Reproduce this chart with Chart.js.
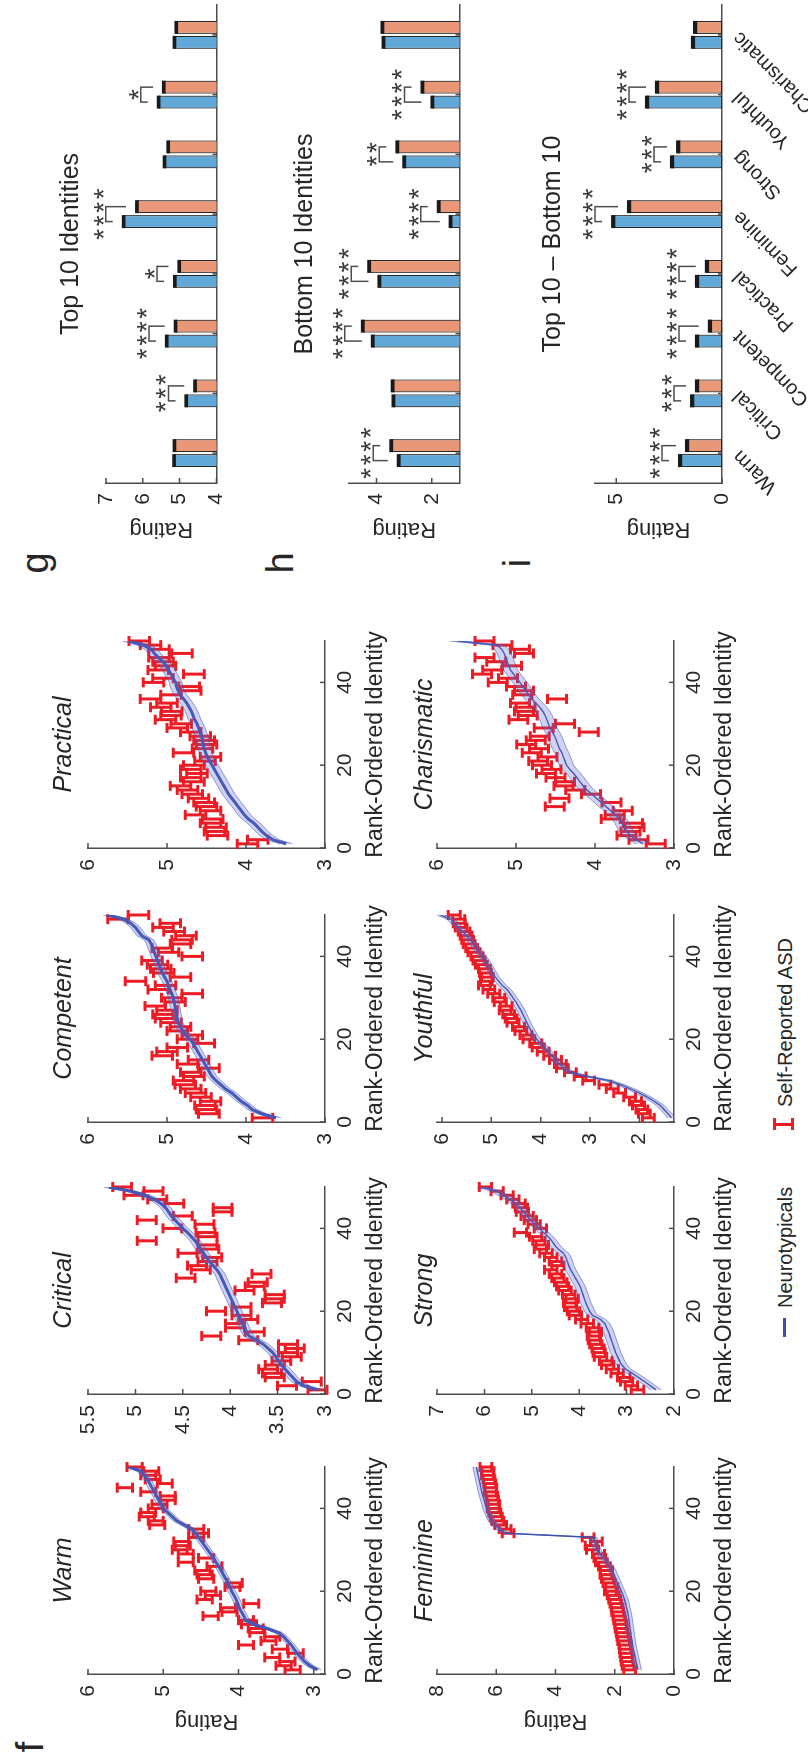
<!DOCTYPE html>
<html>
<head>
<meta charset="utf-8">
<title>Identity ratings</title>
<script src="https://cdn.jsdelivr.net/npm/chart.js@4"></script>
<style>
  body { margin: 0; background: #fff; width: 808px; height: 1760px; overflow: hidden;
         font-family: "Liberation Sans", Arial, sans-serif; color: #262626; }
  #fig { position: absolute; left: 0; top: 0; width: 1760px; height: 808px;
         transform-origin: 0 0; transform: translateY(1760px) rotate(-90deg); }
  #fig canvas { position: absolute; }
  .lbl { position: absolute; white-space: nowrap; line-height: 1; }
  .mid { transform: translate(-50%, -50%); }
  .vmid { transform: translateY(-50%); }
  .mark { position: absolute; }
</style>
</head>
<body>
<div id="fig">
  <div class="lbl mid" style="left:13px; top:30px; font-size:38px;">f</div>
  <div class="lbl mid" style="left:1197px; top:35px; font-size:38px;">g</div>
  <div class="lbl mid" style="left:1197px; top:280px; font-size:38px;">h</div>
  <div class="lbl mid" style="left:1197px; top:517px; font-size:38px;">i</div>

  <div class="mark" style="left:423px; top:783px; width:19px; height:3px; background:#3d50b0;"></div>
  <div class="lbl vmid" style="left:452px; top:785px; font-size:20px;">Neurotypicals</div>
  <div class="mark" style="left:634px; top:773px; width:3px; height:21px; background:#ee1d23;"></div>
  <div class="mark" style="left:630px; top:773px; width:12px; height:3px; background:#ee1d23;"></div>
  <div class="mark" style="left:630px; top:791px; width:12px; height:3px; background:#ee1d23;"></div>
  <div class="lbl vmid" style="left:653px; top:785px; font-size:20px;">Self-Reported ASD</div>
</div>

<script>
// ---- panel f: rank-ordered identity ratings (ranks 1..50) ----
var fNames = ['Warm', 'Critical', 'Competent', 'Practical', 'Feminine', 'Strong', 'Youthful', 'Charismatic'];

var warmNT = [2.95,3.05,3.12,3.17,3.22,3.26,3.30,3.35,3.40,3.47,3.62,3.80,3.90,3.93,3.96,3.99,4.01,4.03,4.06,4.09,4.11,4.14,4.17,4.20,4.23,4.26,4.30,4.33,4.37,4.41,4.45,4.49,4.53,4.57,4.62,4.72,4.82,4.88,4.94,5.00,5.03,5.06,5.09,5.12,5.15,5.18,5.21,5.25,5.30,5.45];
var warmASD = [3.28,3.40,3.35,3.55,3.24,3.45,3.90,3.60,3.55,3.75,3.77,3.86,3.90,4.37,4.12,4.14,3.83,4.45,4.34,4.40,4.08,4.05,4.43,4.45,4.48,4.32,4.70,4.43,4.70,4.78,4.74,4.76,4.56,4.50,4.56,5.08,5.10,5.22,5.20,5.10,5.05,4.94,4.94,5.20,5.51,4.98,5.14,5.20,5.16,5.38];

var criticalNT = [3.08,3.22,3.30,3.34,3.38,3.42,3.46,3.49,3.52,3.55,3.60,3.65,3.72,3.80,3.83,3.85,3.87,3.89,3.91,3.93,3.95,3.97,3.99,4.01,4.03,4.05,4.07,4.09,4.11,4.14,4.18,4.22,4.25,4.28,4.31,4.34,4.37,4.41,4.45,4.50,4.54,4.58,4.62,4.65,4.68,4.73,4.80,4.90,5.05,5.28];
var criticalASD = [3.08,3.40,3.14,3.53,3.56,3.60,3.53,3.46,3.35,3.39,3.32,3.39,3.81,4.20,3.74,3.95,3.95,3.81,3.88,4.15,3.88,3.56,3.53,3.53,3.85,3.74,3.71,4.47,3.67,4.31,4.35,4.24,4.19,4.45,4.22,4.24,4.88,4.24,4.26,4.61,4.27,4.88,4.50,4.08,4.08,4.59,4.77,5.02,4.81,5.14];

var competentNT = [3.62,3.80,3.92,3.98,4.06,4.12,4.18,4.26,4.32,4.38,4.43,4.46,4.49,4.52,4.55,4.58,4.61,4.64,4.67,4.71,4.76,4.80,4.83,4.86,4.87,4.88,4.89,4.90,4.91,4.92,4.94,4.96,4.98,5.00,5.03,5.06,5.08,5.10,5.12,5.14,5.16,5.18,5.20,5.23,5.32,5.36,5.40,5.46,5.55,5.75];
var competentASD = [3.79,4.47,4.50,4.52,4.45,4.57,4.64,4.70,4.77,4.79,4.66,4.70,4.47,4.74,4.60,5.06,5.00,4.87,4.53,4.74,4.68,4.87,4.83,4.95,5.02,5.05,5.00,5.15,4.90,4.94,4.68,5.11,5.02,5.40,4.83,5.04,5.08,5.12,5.19,4.68,4.98,5.06,4.83,4.81,4.76,4.91,5.05,4.96,5.62,5.36];

var practicalNT = [3.49,3.66,3.74,3.80,3.85,3.90,3.97,4.02,4.06,4.10,4.14,4.18,4.22,4.25,4.28,4.31,4.34,4.37,4.40,4.43,4.46,4.49,4.51,4.53,4.54,4.55,4.56,4.58,4.60,4.62,4.65,4.67,4.69,4.72,4.75,4.79,4.83,4.86,4.88,4.89,4.92,4.95,4.98,5.01,5.05,5.11,5.16,5.20,5.30,5.48];
var practicalASD = [3.98,3.85,4.36,4.40,4.38,4.45,4.42,4.64,4.45,4.50,4.53,4.60,4.68,4.74,4.83,4.66,4.70,4.62,4.70,4.66,4.52,4.45,4.79,4.55,4.50,4.53,4.58,4.70,4.87,4.82,5.02,4.95,4.94,5.08,5.00,5.21,4.95,4.70,4.72,5.17,5.05,4.66,5.11,5.02,5.05,5.10,4.81,5.10,5.21,5.35];

var feminineNT = [1.22,1.25,1.28,1.31,1.34,1.37,1.40,1.42,1.44,1.46,1.48,1.50,1.52,1.54,1.57,1.60,1.63,1.67,1.72,1.78,1.84,1.90,1.96,2.02,2.08,2.16,2.26,2.38,2.50,2.58,2.64,2.68,2.72,5.68,5.90,6.05,6.15,6.22,6.28,6.33,6.37,6.41,6.45,6.49,6.52,6.55,6.58,6.61,6.64,6.67];
var feminineASD = [1.50,1.55,1.58,1.60,1.62,1.64,1.66,1.70,1.72,1.75,1.78,1.80,1.83,1.86,1.90,1.92,1.96,2.00,2.05,2.15,2.10,2.20,2.25,2.30,2.28,2.35,2.45,2.50,2.55,2.75,2.80,2.62,2.90,5.60,5.70,5.85,5.95,6.00,6.05,6.10,6.08,6.12,6.15,6.20,6.18,6.22,6.25,6.30,6.28,6.35];

var strongNT = [2.38,2.50,2.62,2.75,2.88,3.02,3.10,3.15,3.19,3.23,3.26,3.29,3.32,3.35,3.38,3.42,3.46,3.55,3.72,3.78,3.82,3.86,3.89,3.92,3.95,3.98,4.03,4.08,4.13,4.18,4.22,4.25,4.28,4.33,4.44,4.52,4.58,4.66,4.75,4.85,4.93,5.02,5.10,5.17,5.25,5.33,5.45,5.60,5.75,6.05];
var strongASD = [2.77,2.90,3.00,3.06,3.20,3.30,3.40,3.44,3.55,3.58,3.60,3.65,3.68,3.70,3.66,3.72,3.83,3.95,4.08,4.12,4.18,4.20,4.15,4.22,4.30,4.35,4.39,4.45,4.50,4.60,4.45,4.50,4.60,4.70,4.82,4.78,4.85,4.92,5.24,4.82,4.95,5.03,5.10,5.20,5.22,5.27,5.40,5.52,5.73,5.98];

var youthfulNT = [1.35,1.42,1.50,1.58,1.70,1.84,2.00,2.18,2.38,2.62,3.05,3.40,3.52,3.62,3.70,3.77,3.84,3.92,4.00,4.08,4.14,4.19,4.24,4.28,4.32,4.36,4.40,4.45,4.50,4.56,4.62,4.68,4.78,4.85,4.92,4.97,5.02,5.07,5.12,5.18,5.24,5.30,5.36,5.42,5.50,5.58,5.66,5.74,5.82,6.03];
var youthfulASD = [1.82,1.90,1.95,2.02,2.08,2.20,2.40,2.55,2.70,3.03,3.20,3.40,3.56,3.60,3.70,3.82,3.95,4.05,4.10,4.24,4.30,4.40,4.45,4.56,4.60,4.65,4.72,4.70,4.82,4.85,4.95,5.05,5.14,5.10,5.08,5.12,5.14,5.20,5.25,5.29,5.35,5.40,5.45,5.48,5.51,5.55,5.61,5.65,5.66,5.75];

var charismaticNT = [3.39,3.48,3.55,3.60,3.63,3.66,3.69,3.74,3.80,3.86,3.92,3.98,4.04,4.10,4.15,4.19,4.23,4.27,4.32,4.36,4.38,4.40,4.42,4.45,4.47,4.49,4.51,4.54,4.57,4.59,4.61,4.63,4.66,4.70,4.75,4.80,4.84,4.88,4.91,4.95,4.99,5.03,5.07,5.09,5.11,5.13,5.15,5.18,5.24,5.75];
var charismaticASD = [3.23,3.45,3.60,3.55,3.50,3.52,3.80,3.75,3.65,4.51,3.79,4.45,4.05,4.25,4.40,4.38,4.50,4.62,4.55,4.67,4.72,4.60,4.80,4.71,4.87,4.75,4.70,4.08,4.65,4.38,4.97,4.85,4.90,4.88,4.95,4.48,4.92,4.90,5.00,5.23,5.10,5.43,5.30,5.05,5.25,5.40,4.90,4.95,5.17,5.40];

var ntSe = [0.05, 0.055, 0.06, 0.08, 0.12, 0.11, 0.08, 0.09];
var asdSe = [0.10, 0.10, 0.13, 0.13, 0.20, 0.13, 0.12, 0.12];
var fYMin = [2.85, 3, 3, 3, 0, 2, 1.3, 3];
var fYMax = [6, 5.5, 6, 6, 8, 7, 6.1, 6];
var fYTicks = [[3,4,5,6], [3,3.5,4,4.5,5,5.5], [3,4,5,6], [3,4,5,6], [0,2,4,6,8], [2,3,4,5,6,7], [2,3,4,5,6], [3,4,5,6]];
var rankTicks = [0, 20, 40];

// ---- panels g, h, i: group means ----
var barCats = ['Warm', 'Critical', 'Competent', 'Practical', 'Feminine', 'Strong', 'Youthful', 'Charismatic'];
var top10NT = [5.15, 4.82, 5.35, 5.13, 6.52, 5.41, 5.57, 5.14];
var top10ASD = [5.14, 4.58, 5.11, 5.01, 6.16, 5.31, 5.43, 5.09];
var top10Sig = ['', '***', '****', '*', '****', '', '*', ''];
var bottom10NT = [3.20, 3.39, 4.14, 3.90, 1.32, 3.00, 1.98, 3.75];
var bottom10ASD = [3.47, 3.42, 4.50, 4.27, 1.75, 3.25, 2.34, 3.79];
var bottom10Sig = ['****', '', '****', '****', '****', '**', '****', ''];
var diffNT = [1.98, 1.41, 1.18, 1.18, 5.14, 2.36, 3.54, 1.37];
var diffASD = [1.65, 1.18, 0.57, 0.71, 4.39, 2.07, 3.07, 1.27];
var diffSig = ['****', '***', '****', '****', '****', '***', '****', ''];

var barTitles = ['Top 10 Identities', 'Bottom 10 Identities', 'Top 10 \u2013 Bottom 10'];
var barYMin = [4, 1, 0];
var barYMax = [7, 5, 6];
var barYTicks = [[4,5,6,7], [2,4], [0,5]];
var barSe = [0.05, 0.07, 0.1];

// ---- styling ----
var FONT = '"Liberation Sans", Arial, sans-serif';
var TEXT = '#262626';
var AXIS = '#4d4d4d';
var NT_BLUE = '#3d50b0';
var BAND_FILL = 'rgba(95,110,205,0.30)';
var BAND_EDGE = 'rgba(61,80,176,0.6)';
var ASD_RED = '#ed1c24';
var BAR_BLUE = 'rgb(95,168,216)';
var BAR_ORANGE = 'rgb(233,151,118)';

Chart.defaults.font.family = FONT;
Chart.defaults.color = TEXT;

var fig = document.getElementById('fig');

function pts(arr, d) {
    return arr.map(function (v, i) { return {x: i + 1, y: v + (d || 0)}; });
}

function plainNum(v) {
    return String(Math.round(v * 10) / 10);
}

var decor = {
    id: 'decor',
    beforeDatasetsDraw: function (chart, args, o) {
        if (!o.asd) return;
        var ctx = chart.ctx, x = chart.scales.x, y = chart.scales.y;
        ctx.save();
        ctx.strokeStyle = ASD_RED;
        ctx.lineWidth = 3;
        o.asd.forEach(function (v, i) {
            var px = x.getPixelForValue(i + 1);
            var y0 = y.getPixelForValue(v - o.se), y1 = y.getPixelForValue(v + o.se);
            ctx.beginPath();
            ctx.moveTo(px, y0); ctx.lineTo(px, y1);
            ctx.moveTo(px - 5, y0); ctx.lineTo(px + 5, y0);
            ctx.moveTo(px - 5, y1); ctx.lineTo(px + 5, y1);
            ctx.stroke();
        });
        ctx.restore();
    },
    afterDraw: function (chart, args, o) {
        var ctx = chart.ctx, a = chart.chartArea, x = chart.scales.x, y = chart.scales.y;
        ctx.save();
        // inward tick marks, matlab style
        ctx.strokeStyle = AXIS;
        ctx.lineWidth = 1.5;
        ctx.beginPath();
        y.ticks.forEach(function (t) {
            var py = y.getPixelForValue(t.value);
            ctx.moveTo(a.left, py); ctx.lineTo(a.left + 5, py);
        });
        x.ticks.forEach(function (t, i) {
            var px = x.type === 'category' ? x.getPixelForValue(i) : x.getPixelForValue(t.value);
            ctx.moveTo(px, a.bottom); ctx.lineTo(px, a.bottom - (x.type === 'category' ? 4 : 5));
        });
        ctx.stroke();

        // error caps, brackets and stars on bar panels
        if (o.sig) {
            var ds = chart.data.datasets;
            var m0 = chart.getDatasetMeta(0), m1 = chart.getDatasetMeta(1);
            ctx.fillStyle = '#1a1a1a';
            [m0, m1].forEach(function (m, k) {
                m.data.forEach(function (bar, i) {
                    var v = ds[k].data[i];
                    var t = y.getPixelForValue(v + o.se), b = y.getPixelForValue(v - o.se);
                    if (b - t < 3) { var c = (t + b) / 2; t = c - 1.5; b = c + 1.5; }
                    ctx.fillRect(bar.x - bar.width / 2, t, bar.width, b - t);
                });
            });
            o.sig.forEach(function (s, i) {
                if (!s) return;
                var b0 = m0.data[i], b1 = m1.data[i];
                var t0 = y.getPixelForValue(ds[0].data[i] + o.se);
                var t1 = y.getPixelForValue(ds[1].data[i] + o.se);
                var by = Math.min(t0, t1) - 16;
                ctx.strokeStyle = AXIS;
                ctx.lineWidth = 1.5;
                ctx.beginPath();
                ctx.moveTo(b0.x, Math.max(by + 5, t0 - 9));
                ctx.lineTo(b0.x, by);
                ctx.lineTo(b1.x, by);
                ctx.lineTo(b1.x, Math.max(by + 5, t1 - 9));
                ctx.stroke();
                ctx.fillStyle = '#3a3a3a';
                ctx.font = '28px ' + FONT;
                ctx.textAlign = 'center';
                ctx.textBaseline = 'alphabetic';
                var cx = (b0.x + b1.x) / 2, n = s.length, sp = 13.5;
                for (var j = 0; j < n; j++) {
                    ctx.fillText('*', cx + (j - (n - 1) / 2) * sp, by - 9 + 16);
                }
            });
        }

        // titles
        ctx.fillStyle = TEXT;
        ctx.textAlign = 'center';
        ctx.textBaseline = 'middle';
        if (o.title) {
            ctx.font = o.titleFont;
            ctx.fillText(o.title, (a.left + a.right) / 2, a.top - o.titleGap);
        }
        if (o.xTitle) {
            ctx.font = '23px ' + FONT;
            ctx.fillText(o.xTitle, (a.left + a.right) / 2, a.bottom + 51);
        }
        if (o.yTitle) {
            ctx.font = '22px ' + FONT;
            ctx.translate(a.left - o.yTitleGap, (a.top + a.bottom) / 2);
            ctx.rotate(-Math.PI / 2);
            ctx.fillText(o.yTitle, 0, 0);
        }
        ctx.restore();
    }
};

function fixedTicks(list) {
    return function (s) { s.ticks = list.map(function (v) { return {value: v}; }); };
}

// ---- panel f ----
var ntSeries = [warmNT, criticalNT, competentNT, practicalNT, feminineNT, strongNT, youthfulNT, charismaticNT];
var asdSeries = [warmASD, criticalASD, competentASD, practicalASD, feminineASD, strongASD, youthfulASD, charismaticASD];
var plotLeft = [86, 366, 638, 912];
var rowTop = [88, 437];
var plotW = 207, plotH = 237;

function fPanel(k) {
    var row = Math.floor(k / 4), col = k % 4;
    var padTop = 50, yW = 70, xH = 70, padR = 14;
    var cv = document.createElement('canvas');
    cv.width = yW + plotW + padR;
    cv.height = padTop + plotH + xH;
    cv.style.left = (plotLeft[col] - yW) + 'px';
    cv.style.top = (rowTop[row] - padTop) + 'px';
    fig.appendChild(cv);
    var nt = ntSeries[k], se = ntSe[k];
    new Chart(cv, {
        type: 'line',
        data: {
            datasets: [
                {data: pts(nt, -se), borderColor: BAND_EDGE, borderWidth: 0.9, pointRadius: 0, fill: false},
                {data: pts(nt, se), borderColor: BAND_EDGE, borderWidth: 0.9, pointRadius: 0, fill: '-1', backgroundColor: BAND_FILL},
                {data: pts(nt), borderColor: NT_BLUE, borderWidth: row ? 1.4 : 3, pointRadius: 0, fill: false}
            ]
        },
        plugins: [decor],
        options: {
            responsive: false,
            animation: false,
            devicePixelRatio: 1,
            layout: {padding: {top: padTop, right: padR, left: 0, bottom: 0}},
            plugins: {
                legend: {display: false},
                tooltip: {enabled: false},
                decor: {
                    asd: asdSeries[k], se: asdSe[k],
                    title: fNames[k], titleFont: 'italic 25px ' + FONT, titleGap: row ? 12 : 24,
                    xTitle: 'Rank-Ordered Identity',
                    yTitle: col === 0 ? 'Rating' : null, yTitleGap: 47
                }
            },
            scales: {
                x: {
                    type: 'linear', min: 0, max: 50,
                    grid: {display: false, drawTicks: false},
                    border: {color: AXIS, width: 1.5},
                    ticks: {font: {size: 21}, color: TEXT, padding: 8, maxRotation: 0, callback: plainNum},
                    afterBuildTicks: fixedTicks(rankTicks),
                    afterFit: function (s) { s.height = xH; }
                },
                y: {
                    min: fYMin[k], max: fYMax[k],
                    grid: {display: false, drawTicks: false},
                    border: {color: AXIS, width: 1.5},
                    ticks: {font: {size: 21}, color: TEXT, padding: 11, callback: plainNum},
                    afterBuildTicks: fixedTicks(fYTicks[k]),
                    afterFit: function (s) { s.width = yW; }
                }
            }
        }
    });
}

for (var k = 0; k < 8; k++) fPanel(k);

// ---- panels g, h, i ----
var barNT = [top10NT, bottom10NT, diffNT];
var barASD = [top10ASD, bottom10ASD, diffASD];
var barSig = [top10Sig, bottom10Sig, diffSig];
var barTop = [106, 349, 595];
var barLeft = 1277, barW = 478, barH = 127;
var barTitleGap = [35, 44, 42];

function barPanel(k) {
    var padTop = 70, yW = 70, xH = k === 2 ? 86 : 6, padR = 3;
    var cv = document.createElement('canvas');
    cv.width = yW + barW + padR;
    cv.height = padTop + barH + xH;
    cv.style.left = (barLeft - yW) + 'px';
    cv.style.top = (barTop[k] - padTop) + 'px';
    fig.appendChild(cv);
    new Chart(cv, {
        type: 'bar',
        data: {
            labels: barCats,
            datasets: [
                {data: barNT[k], backgroundColor: BAR_BLUE, borderColor: '#262626', borderWidth: 1.2, borderSkipped: false,
                 categoryPercentage: 0.5, barPercentage: 0.87},
                {data: barASD[k], backgroundColor: BAR_ORANGE, borderColor: '#262626', borderWidth: 1.2, borderSkipped: false,
                 categoryPercentage: 0.5, barPercentage: 0.87}
            ]
        },
        plugins: [decor],
        options: {
            responsive: false,
            animation: false,
            devicePixelRatio: 1,
            layout: {padding: {top: padTop, right: padR, left: 0, bottom: 0}},
            plugins: {
                legend: {display: false},
                tooltip: {enabled: false},
                decor: {
                    sig: barSig[k], se: barSe[k],
                    title: barTitles[k], titleFont: '25px ' + FONT, titleGap: barTitleGap[k],
                    yTitle: 'Rating', yTitleGap: 46
                }
            },
            scales: {
                x: {
                    grid: {display: false, drawTicks: false},
                    border: {color: AXIS, width: 1.5},
                    ticks: {display: k === 2, font: {size: 20}, color: TEXT, padding: 6,
                            minRotation: 45, maxRotation: 45, autoSkip: false},
                    afterFit: function (s) { s.height = xH; }
                },
                y: {
                    min: barYMin[k], max: barYMax[k],
                    grid: {display: false, drawTicks: false},
                    border: {color: AXIS, width: 1.5},
                    ticks: {font: {size: 21}, color: TEXT, padding: 10, callback: plainNum},
                    afterBuildTicks: fixedTicks(barYTicks[k]),
                    afterFit: function (s) { s.width = yW; }
                }
            }
        }
    });
}

for (var b = 0; b < 3; b++) barPanel(b);
</script>
</body>
</html>
